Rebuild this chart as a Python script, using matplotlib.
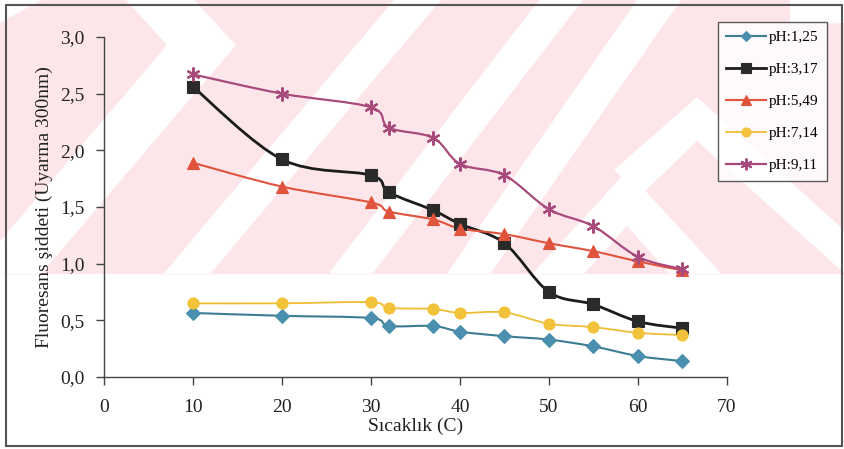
import numpy as np
import matplotlib
matplotlib.use('Agg')
import matplotlib.pyplot as plt
from matplotlib.path import Path
from matplotlib.patches import PathPatch, Rectangle
from matplotlib.lines import Line2D
from matplotlib.ticker import FuncFormatter

# data
sicaklik = [10, 20, 30, 32, 37, 40, 45, 50, 55, 60, 65]
ph_125 = [0.565, 0.54, 0.52, 0.45, 0.45, 0.40, 0.36, 0.33, 0.27, 0.185, 0.14]
ph_317 = [2.56, 1.92, 1.78, 1.63, 1.47, 1.35, 1.18, 0.75, 0.64, 0.49, 0.43]
ph_549 = [1.89, 1.68, 1.54, 1.46, 1.39, 1.31, 1.26, 1.18, 1.11, 1.02, 0.94]
ph_714 = [0.65, 0.65, 0.66, 0.61, 0.60, 0.565, 0.57, 0.47, 0.44, 0.39, 0.37]
ph_911 = [2.67, 2.50, 2.38, 2.20, 2.11, 1.88, 1.78, 1.48, 1.33, 1.06, 0.95]
labels = ['pH:1,25', 'pH:3,17', 'pH:5,49', 'pH:7,14', 'pH:9,11']
xticks = [0, 10, 20, 30, 40, 50, 60, 70]
yticks = [0.0, 0.5, 1.0, 1.5, 2.0, 2.5, 3.0]

plt.rcParams['font.family'] = ['Liberation Serif', 'DejaVu Serif']

W, H = 845, 449

def smooth_path(x, y):
    # excel-like smoothed line: catmull-rom segments as cubic beziers
    p = np.column_stack([x, y]).astype(float)
    n = len(p)
    verts = [p[0]]
    codes = [Path.MOVETO]
    for i in range(n - 1):
        p0 = p[i - 1] if i > 0 else p[i]
        p3 = p[i + 2] if i + 2 < n else p[i + 1]
        c1 = p[i] + (p[i + 1] - p0) / 6.0
        c2 = p[i + 1] - (p3 - p[i]) / 6.0
        verts += [c1, c2, p[i + 1]]
        codes += [Path.CURVE4] * 3
    return Path(verts, codes)

def px(poly):
    return [(a / W, 1 - b / H) for a, b in poly]

def watermark(fig):
    # pink scanned-in watermark behind the upper part of the chart
    pink = '#fde6ea'
    fig.patches.append(Rectangle((0, 1 - 273 / H), 1, 273 / H,
                                 transform=fig.transFigure, color=pink, zorder=-10))
    stripes = [
        [(0, 0), (40, 0), (0, 22)],
        [(127, 0), (193, 0), (235, 45), (41, 273), (-26, 273), (168, 45)],
        [(165, 273), (210, 273), (440, 0), (395, 0)],
        [(330, 273), (372, 273), (582, 0), (540, 0)],
        [(448, 273), (490, 273), (680, 0), (638, 0)],
        [(627, 172), (720, 273), (670, 273), (627, 225), (584, 273), (534, 273)],
        [(697, 98), (845, 232), (845, 273), (697, 140), (640, 195), (615, 170)],
        [(790, 0), (845, 0), (845, 22), (790, 22)],
    ]
    for poly in stripes:
        fig.patches.append(plt.Polygon(px(poly), closed=True, transform=fig.transFigure,
                                       color='white', zorder=-9))

def plot_chart():
    fig = plt.figure(figsize=(W / 100, H / 100), dpi=100)
    watermark(fig)
    ax = fig.add_axes([104 / W, 1 - 377 / H, 623 / W, 340 / H])
    ax.patch.set_alpha(0)

    series = [ph_125, ph_317, ph_549, ph_714, ph_911]
    lcol = ['#3d7d93', '#1c1c1c', '#e0533c', '#eebd34', '#a84a7c']
    mcol = ['#4b8fae', '#2a2a2a', '#e0533c', '#f2c23a', '#a84a7c']
    mark = ['D', 's', '^', 'o', (6, 2, 0)]
    msz = [7, 8, 8, 8, 10]
    lw = [1.5, 2.0, 1.5, 1.3, 1.6]
    handles = []
    for ys, lc, mc, m, ms, w, lab in zip(series, lcol, mcol, mark, msz, lw, labels):
        star = m == (6, 2, 0)
        ax.add_patch(PathPatch(smooth_path(sicaklik, ys), fill=False, edgecolor=lc, lw=w, zorder=2))
        ax.plot(sicaklik, ys, ls='none', marker=m, ms=ms, mfc=mc, mec=lc if star else mc,
                mew=1.6 if star else 0.8, zorder=3)
        handles.append(Line2D([], [], color=lc, lw=w, marker=m, ms=ms - 1.5, mfc=mc,
                              mec=lc if star else mc, mew=1.4 if star else 0.8, label=lab))

    ax.set_xlim(0, 70)
    ax.set_ylim(0, 3.0)
    ax.set_xticks(xticks)
    ax.set_yticks(yticks)
    ax.yaxis.set_major_formatter(FuncFormatter(lambda v, p: ('%.1f' % v).replace('.', ',')))
    for s in ['top', 'right']:
        ax.spines[s].set_visible(False)
    for s in ['left', 'bottom']:
        ax.spines[s].set_color('#444444')
        ax.spines[s].set_linewidth(1.0)
    ax.tick_params(direction='out', length=6, width=1, colors='#444444', labelcolor='#222222',
                   labelsize=14)
    ax.tick_params(axis='x', pad=10)
    ax.tick_params(axis='y', pad=8)
    ax.set_xlabel('Sıcaklık (C)', fontsize=14, color='#222222', labelpad=1)
    ax.set_ylabel('Fluoresans şiddeti (Uyarma 300nm)', fontsize=14, color='#222222', labelpad=5)

    leg = fig.legend(handles=handles, loc='upper left', bbox_to_anchor=(718 / W, 1 - 22 / H),
                     fontsize=11, frameon=True, fancybox=False, edgecolor='#333333',
                     handlelength=2.6, handletextpad=0.2, labelspacing=1.2,
                     borderpad=0.55, borderaxespad=0)
    leg.get_frame().set_linewidth(1.0)

    fig.patches.append(Rectangle((6 / W, 3 / H), 836 / W, 441 / H, transform=fig.transFigure,
                                 fill=False, edgecolor='#555555', lw=1.5, zorder=5))
    fig.savefig('out.png', dpi=100)

plot_chart()
